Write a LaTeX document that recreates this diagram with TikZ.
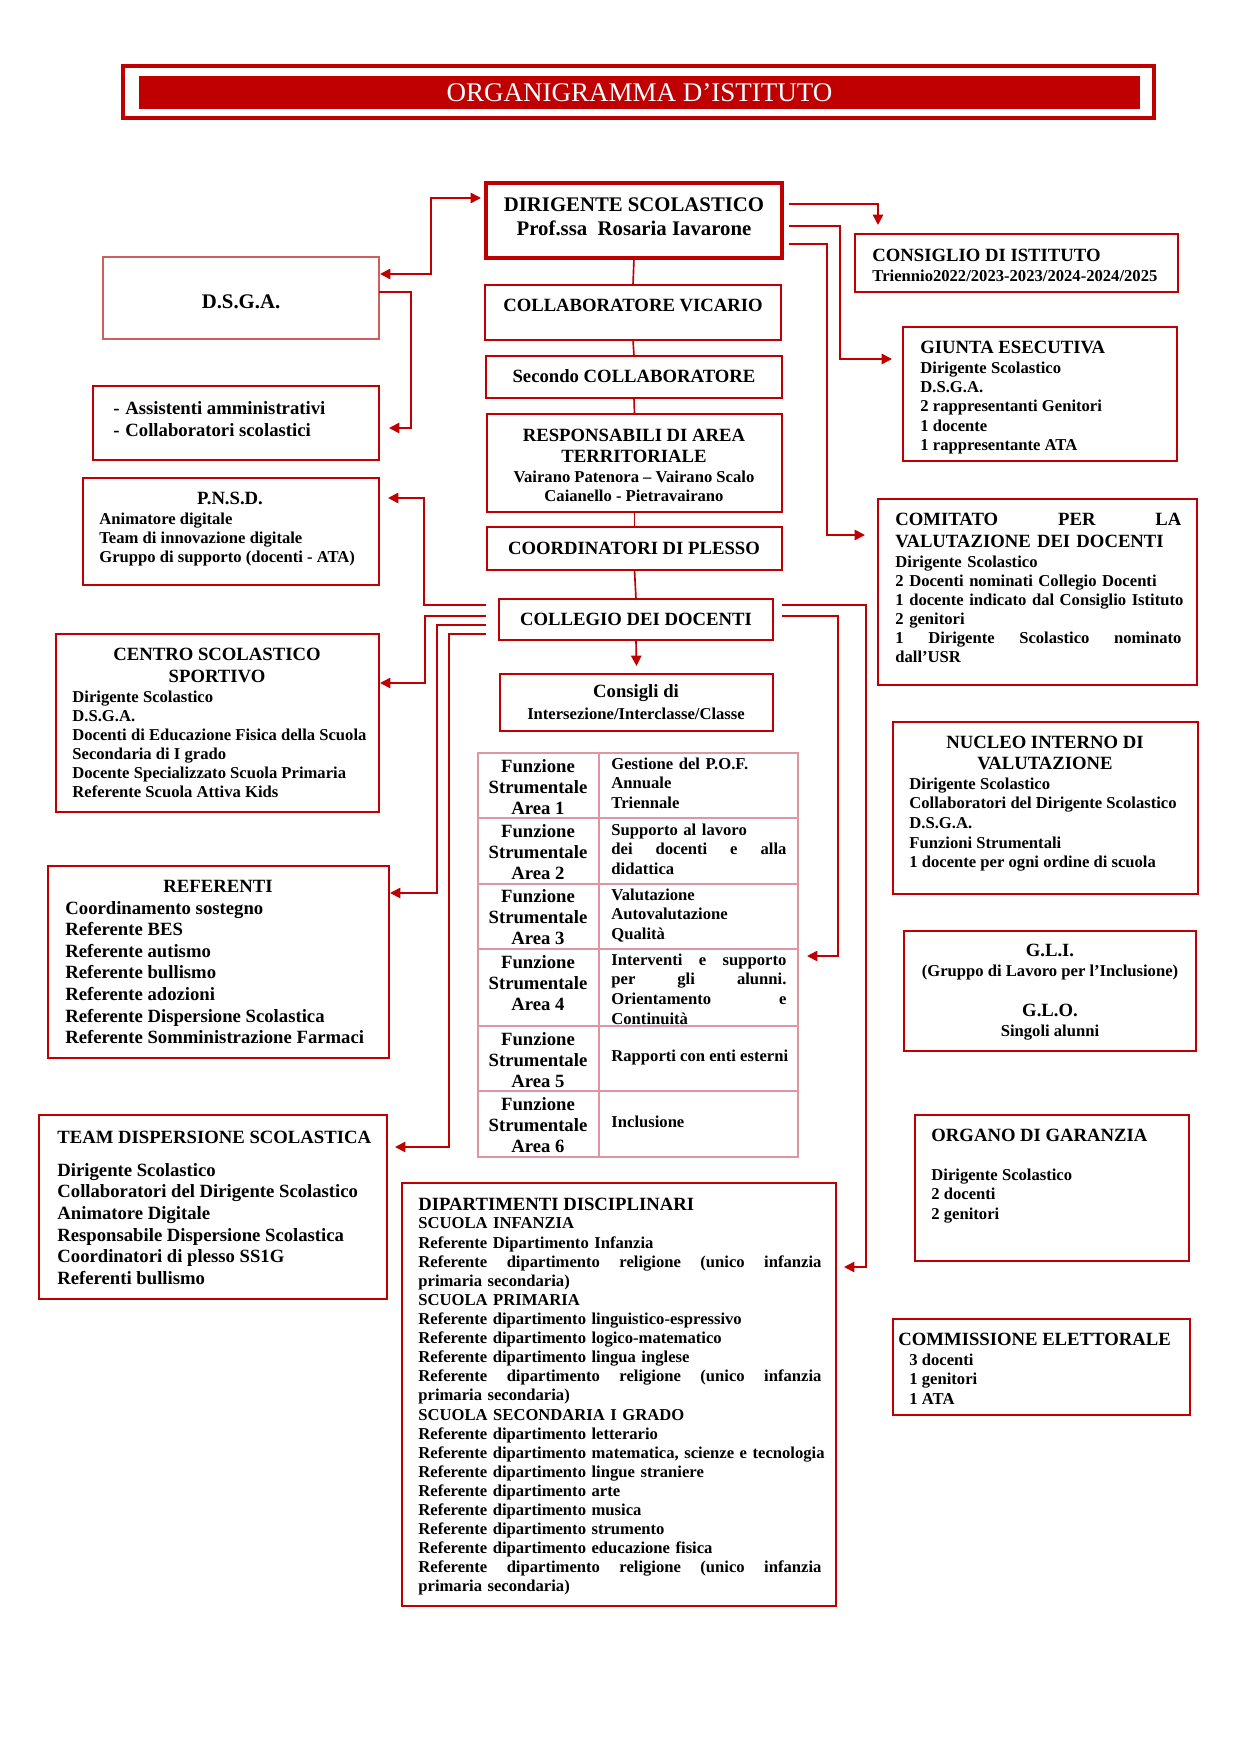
\documentclass[tikz,border=0pt]{standalone}
\usepackage{fontspec}
\setmainfont{Liberation Serif}
\usetikzlibrary{arrows.meta,calc,fit}
\definecolor{orgred}{RGB}{192,0,0}
\definecolor{dsgared}{RGB}{205,95,95}
\definecolor{tabline}{RGB}{222,150,160}
\newcommand{\pxw}{0.16922mm}
\newcommand{\fsz}[2]{\fontsize{#1}{#2}\selectfont}
\newcommand{\orgbox}[6][]{\node[orgframe,#1,fit={(#3,#4)(#5,#6)}] (#2) {};}
\hyphenpenalty=10000
\exhyphenpenalty=10000
\tikzset{
	orgframe/.style={draw=orgred, line width=1.2pt, inner sep=0pt, outer sep=0pt},
	conn/.style={draw=orgred, line width=0.8pt},
	arrowend/.style={-{Triangle[length=5pt,width=5pt]}},
	twoway/.style={{Triangle[length=5pt,width=5pt]}-{Triangle[length=5pt,width=5pt]}},
	bodytxt/.style={inner sep=0pt, anchor=north west, align=left, font=\bfseries\fsz{8}{9.2}},
	headtxt/.style={inner sep=0pt, anchor=north west, align=left, font=\bfseries\fsz{9}{10.5}},
	midtxt/.style={inner sep=0pt, anchor=center, align=center, font=\bfseries\fsz{9}{10.5}},
}

\begin{document}
\begin{tikzpicture}[x=0.16922mm,y=-0.16922mm]
			%%%%% START %%%%%
			\useasboundingbox (0,0) rectangle (1241,1755);
			
			% title
			\orgbox[line width=2pt]{titlebox}{123}{66}{1154}{118}
			\node[fill=orgred, inner sep=0pt, fit={(139,76)(1140,109)}] (titlebar) {};
			\node[text=white, font=\fsz{13}{15}] (title) at (titlebar.center) {ORGANIGRAMMA D’ISTITUTO};
			
			% central column
			\orgbox[line width=1.6pt]{dir}{486}{183}{782}{258}
			\node[midtxt, font=\bfseries\fsz{10}{11.5}] (dirT) at (634,217) {DIRIGENTE SCOLASTICO\\Prof.ssa\ \ Rosaria Iavarone};
			\orgbox{vicario}{485}{285}{781}{340}
			\node[midtxt] (vicT) at (633,305) {COLLABORATORE VICARIO};
			\orgbox{secondo}{486}{356}{782}{398}
			\node[midtxt] (secT) at (634,376) {Secondo COLLABORATORE};
			\orgbox{resp}{487}{414}{782}{512}
			\node[midtxt, font=\bfseries\fsz{9}{10.1}] (respT) at (634,445.5) {RESPONSABILI DI AREA\\TERRITORIALE};
			\node[midtxt, font=\bfseries\fsz{8}{9.1}] (respB) at (634,486.5) {Vairano Patenora – Vairano Scalo\\Caianello - Pietravairano};
			\orgbox{coord}{487}{527}{782}{570}
			\node[midtxt] (coordT) at (634,548) {COORDINATORI DI PLESSO};
			\orgbox{collegio}{499}{599}{773}{640}
			\node[midtxt] (collT) at (636,619) {COLLEGIO DEI DOCENTI};
			\orgbox{consigli}{500}{674}{773}{731}
			\node[midtxt] (consiT) at (636,693) {Consigli di};
			\node[midtxt, font=\bfseries\fsz{8}{9.2}] (consiB) at (636,714) {Intersezione/Interclasse/Classe};
			
			\draw[conn] (dir.south) -- (vicario.north);
			\draw[conn] (vicario.south) -- (secondo.north);
			\draw[conn] (secondo.south) -- (resp.north);
			\draw[conn] (resp.south) -- (coord.north);
			\draw[conn] (coord.south) -- (collegio.north);
			\draw[conn,arrowend] (collegio.south) -- ($(consigli.north)+(0,-8)$);
			
			% funzioni strumentali
			\node[draw=tabline, line width=0.6pt, inner sep=0pt, outer sep=0pt, fit={(478,753)(798,1157)}] (tab) {};
			\draw[tabline, line width=0.6pt] (599,753) -- (599,1157);
			\foreach \r in {818,884,949,1026,1091}
				\draw[tabline, line width=0.6pt] (478,\r) -- (798,\r);
			\foreach \n/\yc in {1/787,2/852,3/917,4/983,5/1060,6/1125}
				\node[midtxt, font=\bfseries\fsz{9}{10.3}] (fs\n) at (538,\yc) {Funzione\\Strumentale\\Area \n};
			\node[bodytxt, text width=175*\pxw, font=\bfseries\fsz{8}{9.4}] (fa1) at (611,757.5) {Gestione del P.O.F.\\Annuale\\Triennale};
			\node[bodytxt, text width=175*\pxw, font=\bfseries\fsz{8}{9.4}] (fa2) at (611,823.5) {Supporto al lavoro\\dei\hfill docenti\hfill e\hfill alla\\didattica};
			\node[bodytxt, text width=175*\pxw, font=\bfseries\fsz{8}{9.4}] (fa3) at (611,888.5) {Valutazione\\Autovalutazione\\Qualità};
			\node[bodytxt, text width=175*\pxw, font=\bfseries\fsz{8}{9.4}] (fa4) at (611,953.5) {Interventi\hfill e\hfill supporto\\per\hfill gli\hfill alunni.\\Orientamento\hfill e\\Continuità};
			\node[bodytxt, anchor=west] (fa5) at (611,1057) {Rapporti con enti esterni};
			\node[bodytxt, anchor=west] (fa6) at (611,1122) {Inclusione};
			
			\orgbox{dipart}{402}{1183}{836}{1606}
			\node[headtxt] (dipartT) at (418,1198) {DIPARTIMENTI DISCIPLINARI};
			\node[bodytxt, text width=403*\pxw] (dipartB) at (418,1217.5) {SCUOLA INFANZIA\\
				Referente Dipartimento Infanzia\\
				Referente\hfill dipartimento\hfill religione\hfill (unico\hfill infanzia\\
				primaria secondaria)\\
				SCUOLA PRIMARIA\\
				Referente dipartimento linguistico-espressivo\\
				Referente dipartimento logico-matematico\\
				Referente dipartimento lingua inglese\\
				Referente\hfill dipartimento\hfill religione\hfill (unico\hfill infanzia\\
				primaria secondaria)\\
				SCUOLA SECONDARIA I GRADO\\
				Referente dipartimento letterario\\
				\mbox{Referente dipartimento matematica, scienze e tecnologia}\\
				Referente dipartimento lingue straniere\\
				Referente dipartimento arte\\
				Referente dipartimento musica\\
				Referente dipartimento strumento\\
				Referente dipartimento educazione fisica\\
				Referente\hfill dipartimento\hfill religione\hfill (unico\hfill infanzia\\
				primaria secondaria)};
			
			% left column
			\orgbox[draw=dsgared, line width=1pt]{dsga}{103}{257}{379}{339}
			\node[midtxt, font=\bfseries\fsz{10}{12}] (dsgaT) at (241,302) {D.S.G.A.};
			\orgbox{assist}{93}{386}{379}{460}
			\node[bodytxt, font=\bfseries\fsz{9}{10.6}] (assistT) at (113,400.8) {\makebox[5.8pt][l]{-}Assistenti amministrativi\\\makebox[5.8pt][l]{-}Collaboratori scolastici};
			\orgbox{pnsd}{83}{478}{379}{585}
			\node[midtxt] (pnsdT) at (230,498) {P.N.S.D.};
			\node[bodytxt] (pnsdB) at (99,512.5) {Animatore digitale\\Team di innovazione digitale\\Gruppo di supporto (docenti - ATA)};
			\orgbox{centro}{56}{634}{379}{812}
			\node[midtxt, font=\bfseries\fsz{9}{10.6}] (centroT) at (217,665) {CENTRO SCOLASTICO\\SPORTIVO};
			\node[bodytxt] (centroB) at (72,690.5) {Dirigente Scolastico\\D.S.G.A.\\Docenti di Educazione Fisica della Scuola\\Secondaria di I grado\\Docente Specializzato Scuola Primaria\\Referente Scuola Attiva Kids};
			\orgbox{refer}{48}{866}{389}{1058}
			\node[midtxt] (referT) at (218,886) {REFERENTI};
			\node[bodytxt, font=\bfseries\fsz{9}{10.4}] (referB) at (65,900.8) {Coordinamento sostegno\\Referente BES\\Referente autismo\\Referente bullismo\\Referente adozioni\\Referente Dispersione Scolastica\\Referente Somministrazione Farmaci};
			\orgbox{team}{39}{1115}{387}{1299}
			\node[headtxt] (teamT) at (57,1131) {TEAM DISPERSIONE SCOLASTICA};
			\node[bodytxt, font=\bfseries\fsz{9}{10.4}] (teamB) at (57,1162.8) {Dirigente Scolastico\\Collaboratori del Dirigente Scolastico\\Animatore Digitale\\Responsabile Dispersione Scolastica\\Coordinatori di plesso SS1G\\Referenti bullismo};
			
			% right column
			\orgbox{cons}{855}{234}{1178}{292}
			\node[headtxt] (consT) at (872,249) {CONSIGLIO DI ISTITUTO};
			\node[bodytxt] (consB) at (872,269.5) {Triennio2022/2023-2023/2024-2024/2025};
			\orgbox{giunta}{903}{327}{1177}{461}
			\node[headtxt] (giuntaT) at (920,341) {GIUNTA ESECUTIVA};
			\node[bodytxt, font=\bfseries\fsz{8}{9.24}] (giuntaB) at (920,361.5) {Dirigente Scolastico\\D.S.G.A.\\2 rappresentanti Genitori\\1 docente\\1 rappresentante ATA};
			\orgbox{comit}{878}{499}{1197}{685}
			\node[headtxt, text width=286*\pxw, font=\bfseries\fsz{9}{10.56}] (comitT) at (895,513) {COMITATO\hfill PER\hfill LA\\VALUTAZIONE DEI DOCENTI};
			\node[bodytxt, text width=286*\pxw] (comitB) at (895,555.5) {Dirigente Scolastico\\2 Docenti nominati Collegio Docenti\\\mbox{1 docente indicato dal Consiglio Istituto}\\2 genitori\\1\hfill Dirigente\hfill Scolastico\hfill nominato\\dall’USR};
			\orgbox{nucleo}{893}{722}{1198}{894}
			\node[midtxt, font=\bfseries\fsz{9}{10.1}] (nucleoT) at (1045,752.5) {NUCLEO INTERNO DI\\VALUTAZIONE};
			\node[bodytxt, font=\bfseries\fsz{8}{9.4}] (nucleoB) at (909,777.5) {Dirigente Scolastico\\Collaboratori del Dirigente Scolastico\\D.S.G.A.\\Funzioni Strumentali\\1 docente per ogni ordine di scuola};
			\orgbox{gli}{904}{931}{1196}{1051}
			\node[midtxt, font=\bfseries\fsz{8}{9.6}] (gliT) at (1050,992) {{\fsz{9}{9.6}G.L.I.}\\(Gruppo di Lavoro per l’Inclusione)\\[9.6pt]{\fsz{9}{9.6}G.L.O.}\\Singoli alunni};
			\orgbox{organo}{915}{1115}{1189}{1261}
			\node[headtxt] (organoT) at (931,1129) {ORGANO DI GARANZIA};
			\node[bodytxt, font=\bfseries\fsz{8}{9.4}] (organoB) at (931,1168.5) {Dirigente Scolastico\\2 docenti\\2 genitori};
			\orgbox{commis}{893}{1319}{1190}{1415}
			\node[headtxt] (commisT) at (898,1333) {COMMISSIONE ELETTORALE};
			\node[bodytxt, font=\bfseries\fsz{8}{9.4}] (commisB) at (909,1353.5) {3 docenti\\1 genitori\\1 ATA};
			
			% connectors
			\draw[conn,twoway] ($(dsga.north east)+(1,17)$) -- ++(51,0) |- ($(dir.north west)+(-5,15)$);
			\draw[conn,arrowend] ($(dsga.north east)+(0,35)$) -- ++(32,0) |- ($(assist.north east)+(10,42)$);
			\draw[conn,arrowend] ($(dir.north east)+(7,21)$) -| ($(cons.north west)+(23,-9)$);
			\draw[conn,arrowend] ($(dir.north east)+(7,43)$) -- ++(51,0) |- ($(giunta.north west)+(-11,32)$);
			\draw[conn,arrowend] ($(dir.north east)+(7,61)$) -- ++(38,0) |- ($(comit.north west)+(-13,36)$);
			\draw[conn,arrowend] ($(collegio.north west)+(-13,6)$) -- ++(-62,0) |- ($(pnsd.north east)+(9,20)$);
			\draw[conn,arrowend] ($(collegio.north west)+(-13,17)$) -- ++(-61,0) |- ($(centro.north east)+(1,49)$);
			\draw[conn,arrowend] ($(collegio.north west)+(-13,26)$) -- ++(-49,0) |- ($(refer.north east)+(1,27)$);
			\draw[conn,arrowend] ($(collegio.north west)+(-13,35)$) -- ++(-37,0) |- ($(team.north east)+(8,32)$);
			\draw[conn,arrowend] ($(collegio.north east)+(9,17)$) -- ++(56,0) |- ($(tab.north east)+(9,203)$);
			\draw[conn,arrowend] ($(collegio.north east)+(9,6)$) -- ++(84,0) |- ($(dipart.north east)+(8,84)$);
			
			%%%%% END %%%%%
\end{tikzpicture}
\end{document}
